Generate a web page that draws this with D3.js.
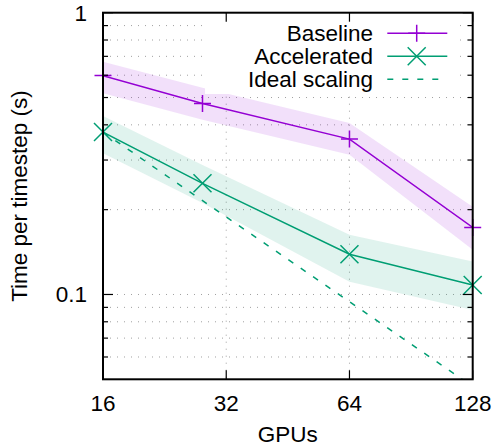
<!DOCTYPE html>
<html>
<head>
<meta charset="utf-8">
<script src="https://cdn.jsdelivr.net/npm/d3@7/dist/d3.min.js"></script>
<style>
  html, body { margin: 0; padding: 0; background: #fff; }
  svg { display: block; font-family: "Liberation Sans", Arial, Helvetica, sans-serif; }
</style>
</head>
<body>
<svg id="chart" width="498" height="447"></svg>
<script>
// ---- data ----
const gpus = [16, 28, 64, 128];
const baseline = [0.598, 0.476, 0.356, 0.173];
const baselineLow = [0.518, 0.417, 0.313, 0.144];
const baselineHigh = [0.670, 0.542, 0.406, 0.205];
const accelerated = [0.377, 0.248, 0.139, 0.108];
const acceleratedLow = [0.317, 0.211, 0.111, 0.088];
const acceleratedHigh = [0.430, 0.288, 0.163, 0.131];
const idealGpus = [16, 32, 64, 128];
const ideal = [0.377, 0.1885, 0.0943, 0.0471];
const xTicks = [16, 32, 64, 128];
const yMajorTicks = [0.1, 1];
const yMinorTicks = [0.06, 0.07, 0.08, 0.09, 0.2, 0.3, 0.4, 0.5, 0.6, 0.7, 0.8, 0.9];
const seriesNames = ["Baseline", "Accelerated", "Ideal scaling"];

const W = 498, H = 447;
const margin = {left: 103, right: 25.3, top: 12.7, bottom: 67.7};
const pw = W - margin.left - margin.right;
const ph = H - margin.top - margin.bottom;
const purple = "#9400d3", green = "#009e73";

const svg = d3.select("#chart");
const g = svg.append("g").attr("transform", `translate(${margin.left},${margin.top})`);

const x = d3.scaleLog().base(2).domain([16, 128]).range([0, pw]);
const y = d3.scaleLog().domain([0.05, 1]).range([ph, 0]);

svg.append("defs").append("clipPath").attr("id", "clip")
  .append("rect").attr("x", 0).attr("y", 0).attr("width", pw).attr("height", ph);

// grid lines
const grid = g.append("g").attr("stroke", "#a0a0a0").attr("stroke-width", 1).attr("stroke-dasharray", "1,6");
[...yMinorTicks, 0.1].forEach(v => {
  grid.append("line").attr("x1", 0).attr("x2", pw).attr("y1", y(v)).attr("y2", y(v));
});
[32, 64].forEach(v => {
  grid.append("line").attr("x1", x(v)).attr("x2", x(v)).attr("y1", 0).attr("y2", ph);
});

// bands
const plot = g.append("g").attr("clip-path", "url(#clip)");
function band(low, high, color) {
  const area = d3.area()
    .x((d, i) => x(gpus[i]))
    .y0((d, i) => y(low[i]))
    .y1((d, i) => y(high[i]));
  plot.append("path").datum(gpus).attr("d", area)
    .attr("fill", color).attr("fill-opacity", 0.12).attr("stroke", "none");
}
band(baselineLow, baselineHigh, purple);
band(acceleratedLow, acceleratedHigh, green);

// legend box (opaque)
const legendBox = {x: 205 - margin.left, y: 1, w: 457 - 205, h: 93 - margin.top};
g.append("rect").attr("x", legendBox.x).attr("y", legendBox.y)
  .attr("width", legendBox.w).attr("height", legendBox.h).attr("fill", "#fff");

// lines
const line = (xs, ys) => d3.line().x((d, i) => x(xs[i])).y((d, i) => y(ys[i]))(xs);
plot.append("path").attr("d", line(idealGpus, ideal)).attr("fill", "none")
  .attr("stroke", green).attr("stroke-width", 1.5).attr("stroke-dasharray", "6,9");
plot.append("path").attr("d", line(gpus, baseline)).attr("fill", "none")
  .attr("stroke", purple).attr("stroke-width", 1.5);
plot.append("path").attr("d", line(gpus, accelerated)).attr("fill", "none")
  .attr("stroke", green).attr("stroke-width", 1.5);

// markers
function plus(sel, cx, cy, color) {
  const s = 8.5;
  sel.append("path").attr("d", `M${cx - s},${cy}H${cx + s}M${cx},${cy - s}V${cy + s}`)
    .attr("stroke", color).attr("stroke-width", 1.5).attr("fill", "none");
}
function cross(sel, cx, cy, color) {
  const s = 9;
  sel.append("path").attr("d", `M${cx - s},${cy - s}L${cx + s},${cy + s}M${cx - s},${cy + s}L${cx + s},${cy - s}`)
    .attr("stroke", color).attr("stroke-width", 1.5).attr("fill", "none");
}
gpus.forEach((v, i) => plus(g, x(v), y(baseline[i]), purple));
gpus.forEach((v, i) => cross(g, x(v), y(accelerated[i]), green));

// axes ticks
const axes = g.append("g").attr("stroke", "#000").attr("stroke-width", 1.2);
yMajorTicks.forEach(v => {
  axes.append("line").attr("x1", 0).attr("x2", 10).attr("y1", y(v)).attr("y2", y(v));
  axes.append("line").attr("x1", pw).attr("x2", pw - 10).attr("y1", y(v)).attr("y2", y(v));
});
yMinorTicks.forEach(v => {
  axes.append("line").attr("x1", 0).attr("x2", 5).attr("y1", y(v)).attr("y2", y(v));
  axes.append("line").attr("x1", pw).attr("x2", pw - 5).attr("y1", y(v)).attr("y2", y(v));
});
xTicks.forEach(v => {
  axes.append("line").attr("x1", x(v)).attr("x2", x(v)).attr("y1", ph).attr("y2", ph - 9);
  axes.append("line").attr("x1", x(v)).attr("x2", x(v)).attr("y1", 0).attr("y2", 9);
});

// border
g.append("rect").attr("x", 0).attr("y", 0).attr("width", pw).attr("height", ph)
  .attr("fill", "none").attr("stroke", "#000").attr("stroke-width", 2);

// tick labels
const fs = 22.5;
xTicks.forEach(v => {
  g.append("text").attr("x", x(v)).attr("y", ph + 32).attr("text-anchor", "middle")
    .attr("font-size", fs).attr("fill", "#000").text(v);
});
const yFmt = v => (v >= 1 ? "1" : "0.1");
yMajorTicks.forEach(v => {
  g.append("text").attr("x", -16).attr("y", y(v) + 8).attr("text-anchor", "end")
    .attr("font-size", fs).attr("fill", "#000").text(yFmt(v));
});

// axis titles
svg.append("text").attr("x", margin.left + pw / 2).attr("y", 442).attr("text-anchor", "middle")
  .attr("font-size", fs).attr("fill", "#000").text("GPUs");
svg.append("text").attr("transform", `translate(27,${margin.top + ph / 2}) rotate(-90)`)
  .attr("text-anchor", "middle").attr("font-size", fs).attr("fill", "#000")
  .text("Time per timestep (s)");

// legend
const legRows = [33.3, 56.3, 79.3];
const legTextX = 373, legX1 = 387.3, legX2 = 447.3, legMid = 416.7;
seriesNames.forEach((name, i) => {
  const ry = legRows[i];
  svg.append("text").attr("x", legTextX).attr("y", ry + 8).attr("text-anchor", "end")
    .attr("font-size", fs).attr("fill", "#000").text(name);
  const color = i === 0 ? purple : green;
  svg.append("line").attr("x1", legX1).attr("x2", legX2).attr("y1", ry).attr("y2", ry)
    .attr("stroke", color).attr("stroke-width", 1.5)
    .attr("stroke-dasharray", i === 2 ? "6,9" : null);
  if (i === 0) plus(svg, legMid, ry, purple);
  if (i === 1) cross(svg, legMid, ry, green);
});
</script>
</body>
</html>
